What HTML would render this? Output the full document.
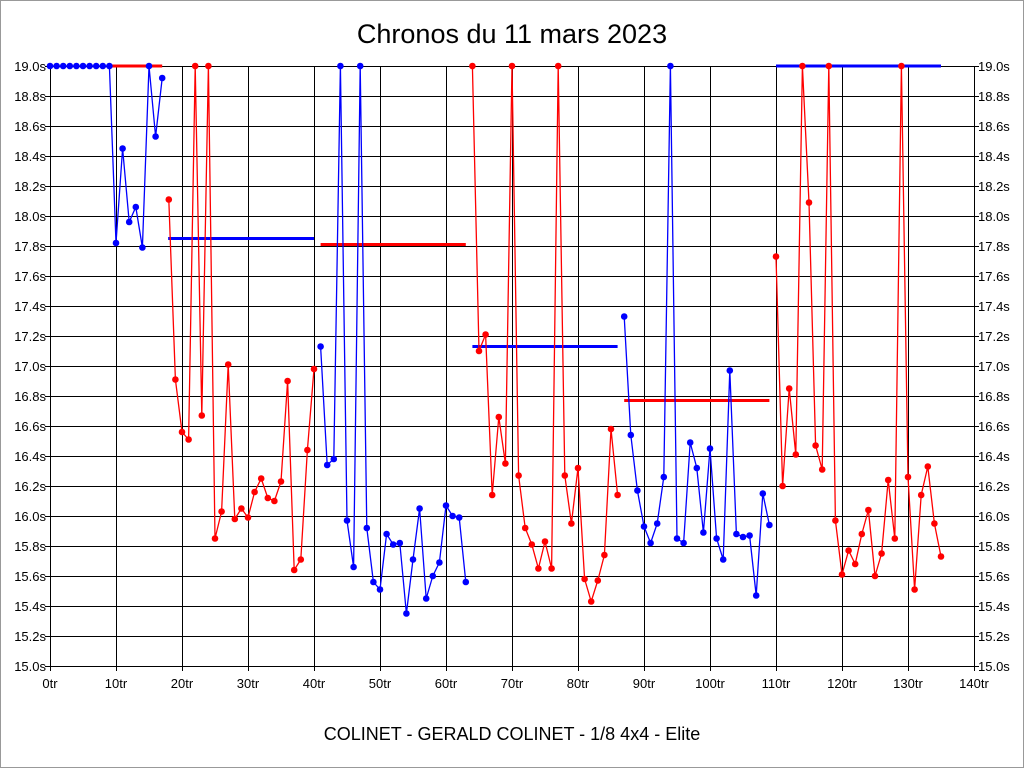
<!DOCTYPE html>
<html><head><meta charset="utf-8"><style>
body{margin:0;background:#fff;}
svg{display:block;font-family:"Liberation Sans",Arial,sans-serif;}
</style></head><body>
<svg id="chart" width="1024" height="768" viewBox="0 0 1024 768">
<rect x="0.5" y="0.5" width="1023" height="767" fill="#fff" stroke="#999"/>
<text x="512" y="43" text-anchor="middle" font-size="27">Chronos du 11 mars 2023</text>
<text x="512" y="740" text-anchor="middle" font-size="18">COLINET - GERALD COLINET - 1/8 4x4 - Elite</text>
<g id="grid"></g><g id="avg"></g><g id="series"></g>
</svg>
<script>
const xTicks=[0,10,20,30,40,50,60,70,80,90,100,110,120,130,140];
const yTicks=[15.0,15.2,15.4,15.6,15.8,16.0,16.2,16.4,16.6,16.8,17.0,17.2,17.4,17.6,17.8,18.0,18.2,18.4,18.6,18.8,19.0];
const segStarts=[0,18,41,64,87,110];
const segColors=["#0000ff","#ff0000","#0000ff","#ff0000","#0000ff","#ff0000"];
const lapTimes=[19,19,19,19,19,19,19,19,19,19,17.82,18.45,17.96,18.06,17.79,19,18.53,18.92,
18.11,16.91,16.56,16.51,19,16.67,19,15.85,16.03,17.01,15.98,16.05,15.99,16.16,16.25,16.12,16.10,16.23,16.90,15.64,15.71,16.44,16.98,
17.13,16.34,16.38,19,15.97,15.66,19,15.92,15.56,15.51,15.88,15.81,15.82,15.35,15.71,16.05,15.45,15.60,15.69,16.07,16.00,15.99,15.56,
19,17.10,17.21,16.14,16.66,16.35,19,16.27,15.92,15.81,15.65,15.83,15.65,19,16.27,15.95,16.32,15.58,15.43,15.57,15.74,16.58,16.14,
17.33,16.54,16.17,15.93,15.82,15.95,16.26,19,15.85,15.82,16.49,16.32,15.89,16.45,15.85,15.71,16.97,15.88,15.86,15.87,15.47,16.15,15.94,
17.73,16.20,16.85,16.41,19,18.09,16.47,16.31,19,15.97,15.61,15.77,15.68,15.88,16.04,15.60,15.75,16.24,15.85,19,16.26,15.51,16.14,16.33,15.95,15.73];
const avgFrom=[9.1,17.9,41,64,87,110];
const avgTo=[17,40,63,86,109,135];
const avgValues=[19.0,17.85,17.81,17.13,16.77,19.0];
const avgColors=["#ff0000","#0000ff","#ff0000","#0000ff","#ff0000","#0000ff"];

const NS="http://www.w3.org/2000/svg";
const L=50,R=974,T=66,B=666;
const xs=v=>L+(v-0)/(140-0)*(R-L);
const ys=v=>B-(v-15)/(19-15)*(B-T);
const px=v=>Math.round(v)+0.5;
function mk(tag,attrs,parent){const e=document.createElementNS(NS,tag);for(const k in attrs)e.setAttribute(k,attrs[k]);parent.appendChild(e);return e;}
const grid=document.getElementById('grid'),avg=document.getElementById('avg'),ser=document.getElementById('series');
yTicks.forEach(v=>{
  const l=mk('line',{x1:L-5,x2:R+5,y1:px(ys(v)),y2:px(ys(v)),stroke:'#000','stroke-width':1,'shape-rendering':'crispEdges'},grid);
  
  
  const t1=mk('text',{x:L-4,y:ys(v)+5,'text-anchor':'end','font-size':13},grid);t1.textContent=v.toFixed(1)+'s';
  
  
  const t2=mk('text',{x:R+4,y:ys(v)+5,'text-anchor':'start','font-size':13},grid);t2.textContent=v.toFixed(1)+'s';
  
  
});
xTicks.forEach(v=>{
  const l=mk('line',{x1:px(xs(v)),x2:px(xs(v)),y1:T,y2:B+5,stroke:'#000','stroke-width':1,'shape-rendering':'crispEdges'},grid);
  
  
  const t=mk('text',{x:xs(v),y:B+22,'text-anchor':'middle','font-size':13},grid);t.textContent=v+'tr';
  
  
});
avgValues.forEach((v,i)=>{
  const l=mk('line',{x1:xs(avgFrom[i]),x2:xs(avgTo[i]),y1:ys(v),y2:ys(v),stroke:avgColors[i],'stroke-width':3},avg);
  
  
});
segStarts.forEach((s,k)=>{
  const e=k+1<segStarts.length?segStarts[k+1]:lapTimes.length;
  const pts=[];for(let i=s;i<e;i++)pts.push(xs(i)+','+ys(lapTimes[i]));
  const p=mk('polyline',{points:pts.join(' '),fill:'none',stroke:segColors[k],'stroke-width':1.3},ser);
  
  
  for(let i=s;i<e;i++){
    const c=mk('circle',{cx:xs(i),cy:ys(lapTimes[i]),r:3.3,fill:segColors[k]},ser);
    
    
  }
});
</script>
</body></html>
